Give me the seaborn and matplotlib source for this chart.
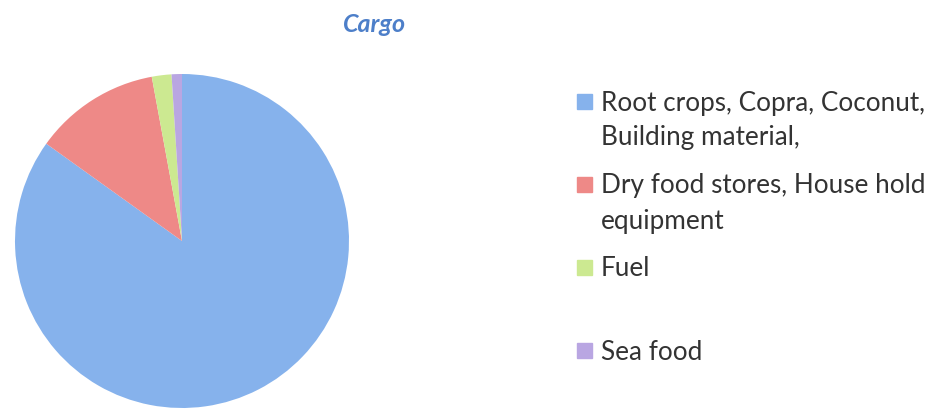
import matplotlib
matplotlib.use("Agg")
import matplotlib.pyplot as plt
import seaborn as sns
from matplotlib.patches import Rectangle

# Dati
categories = ["Root crops, Copra, Coconut,\nBuilding material,",
              "Dry food stores, House hold\nequipment",
              "Fuel",
              "Sea food"]
shares = [84.9, 12.2, 1.9, 1.0]
colors = ["#86b2ec", "#ee8987", "#cce991", "#b9a6e2"]
title = "Cargo"

sns.set_theme(style="white")
plt.rcParams["font.family"] = ["Lato", "DejaVu Sans"]

fig = plt.figure(figsize=(9.3, 4.09), dpi=100)
W, H = 930, 409

# Asse della torta: centro (182, 241), raggio 167 px
cx, cy, r = 182, 241, 167
ax = fig.add_axes([(cx - r) / W, (H - cy - r) / H, 2 * r / W, 2 * r / H])
wedges, _ = ax.pie(shares, colors=colors, startangle=90, counterclock=False,
                   wedgeprops=dict(linewidth=0))
for w in wedges:
    w.set_clip_on(False)
ax.set_xlim(-1, 1)
ax.set_ylim(-1, 1)
ax.set_aspect("equal")
ax.axis("off")

fig.text(375 / W, 1 - 25 / H, title, ha="center", va="center",
         fontsize=18, fontstyle="italic", fontweight="bold", color="#4d7fc9")

# Legenda manuale
y0, step, line_h = 102, 83, 35
for i, (lab, col) in enumerate(zip(categories, colors)):
    y = y0 + i * step
    fig.patches.append(Rectangle((577 / W, 1 - (y + 7) / H), 15 / W, 15 / H,
                                 transform=fig.transFigure, color=col))
    for j, line in enumerate(lab.split("\n")):
        fig.text(601 / W, 1 - (y + 1 + j * line_h) / H, line, ha="left",
                 va="center", fontsize=18.8, color="#333333")

fig.savefig("out.png", dpi=100)
